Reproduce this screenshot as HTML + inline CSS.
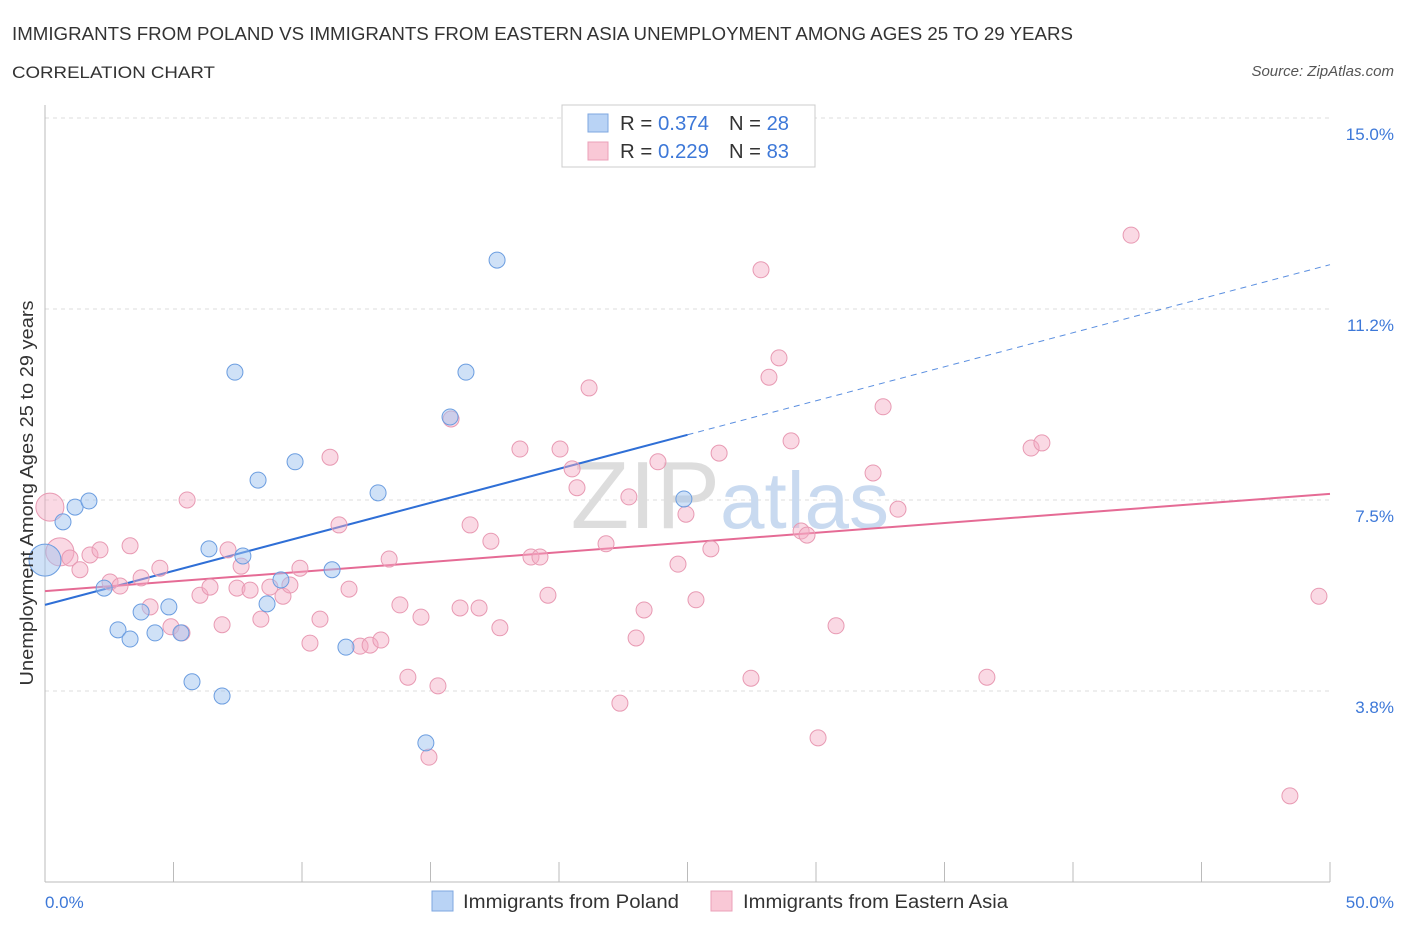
<!DOCTYPE html>
<html><head><meta charset="utf-8"><style>
body{margin:0;background:#fff;font-family:"Liberation Sans",sans-serif;}
svg text{font-family:"Liberation Sans",sans-serif;}
</style></head><body>
<svg width="1406" height="930" viewBox="0 0 1406 930">
<text x="12" y="40" font-size="18" fill="#333" textLength="1061" lengthAdjust="spacingAndGlyphs">IMMIGRANTS FROM POLAND VS IMMIGRANTS FROM EASTERN ASIA UNEMPLOYMENT AMONG AGES 25 TO 29 YEARS</text>
<text x="12" y="78" font-size="17" fill="#333" textLength="203" lengthAdjust="spacingAndGlyphs">CORRELATION CHART</text>
<text x="1394" y="76" font-size="15" fill="#555" font-style="italic" text-anchor="end">Source: ZipAtlas.com</text>
<g id="grid"></g>
<text x="720" y="528" font-size="96" fill="#ddd" text-anchor="end" font-family="Liberation Serif">ZIP</text>
<text x="720" y="528" font-size="80" fill="#c9daf0">atlas</text>
<g id="axes"></g>
<g id="lines"></g>
<g id="pts"></g>
<text transform="translate(33,493) rotate(-90)" font-size="18" fill="#333" text-anchor="middle" textLength="385" lengthAdjust="spacingAndGlyphs">Unemployment Among Ages 25 to 29 years</text>
<text x="45" y="908" font-size="17" fill="#3d78d8">0.0%</text>
<text x="1394" y="908" font-size="17" fill="#3d78d8" text-anchor="end">50.0%</text>
<g>
<rect x="562" y="105" width="253" height="62" fill="#fff" stroke="#ccc"/>
<rect x="588" y="114" width="20" height="18" fill="#b9d3f5" stroke="#7ea7e0"/>
<rect x="588" y="142" width="20" height="18" fill="#f9c8d6" stroke="#eba0b8"/>
<text x="620" y="130" font-size="20" fill="#333" textLength="89" lengthAdjust="spacingAndGlyphs">R = <tspan fill="#3d78d8">0.374</tspan></text>
<text x="729" y="130" font-size="20" fill="#333" textLength="60" lengthAdjust="spacingAndGlyphs">N = <tspan fill="#3d78d8">28</tspan></text>
<text x="620" y="158" font-size="20" fill="#333" textLength="89" lengthAdjust="spacingAndGlyphs">R = <tspan fill="#3d78d8">0.229</tspan></text>
<text x="729" y="158" font-size="20" fill="#333" textLength="60" lengthAdjust="spacingAndGlyphs">N = <tspan fill="#3d78d8">83</tspan></text>
</g>
<g>
<rect x="432" y="891" width="21" height="20" fill="#b9d3f5" stroke="#7ea7e0"/>
<text x="463" y="908" font-size="19" fill="#333" textLength="216" lengthAdjust="spacingAndGlyphs">Immigrants from Poland</text>
<rect x="711" y="891" width="21" height="20" fill="#f9c8d6" stroke="#eba0b8"/>
<text x="743" y="908" font-size="19" fill="#333" textLength="265" lengthAdjust="spacingAndGlyphs">Immigrants from Eastern Asia</text>
</g>
</svg>
<script>
const yTicks=[15,11.25,7.5,3.75];
const yTickLabels=["15.0%","11.2%","7.5%","3.8%"];
const xTicks=[0,5,10,15,20,25,30,35,40,45,50];
const polandX=[0,0.70,1.17,1.71,2.30,2.84,3.31,3.74,4.28,4.82,5.29,5.72,6.38,6.89,7.39,7.70,8.29,8.64,9.18,9.73,11.17,11.71,12.96,14.82,15.76,16.38,17.59,24.86];
const polandY=[6.32,7.07,7.36,7.48,5.77,4.95,4.77,5.30,4.89,5.40,4.89,3.93,6.54,3.65,10.01,6.40,7.89,5.46,5.93,8.25,6.13,4.61,7.64,2.73,9.13,10.01,12.21,7.52];
const asiaX=[0.19,0.58,0.97,1.36,1.75,2.14,2.53,2.92,3.31,3.74,4.09,4.47,4.90,5.33,5.53,6.03,6.42,6.89,7.12,7.47,7.63,7.98,8.40,8.75,9.26,9.53,9.92,10.31,10.70,11.09,11.44,11.83,12.26,12.65,13.07,13.39,13.81,14.12,14.63,14.94,15.29,15.80,16.15,16.54,16.89,17.35,17.70,18.48,18.91,19.26,19.57,20.04,20.51,20.70,21.17,21.83,22.37,22.72,23.00,23.31,23.85,24.63,24.94,25.33,25.91,26.23,27.47,27.86,28.17,28.56,29.03,29.42,29.65,30.08,30.78,32.22,32.61,33.19,36.65,38.37,38.79,42.26,48.44,49.57];
const asiaY=[7.36,6.48,6.36,6.13,6.42,6.52,5.89,5.81,6.60,5.97,5.40,6.16,5.01,4.89,7.50,5.63,5.79,5.05,6.52,5.77,6.20,5.73,5.16,5.79,5.61,5.83,6.16,4.69,5.16,8.34,7.01,5.75,4.63,4.65,4.75,6.34,5.44,4.02,5.20,2.45,3.85,9.09,5.38,7.01,5.38,6.69,4.99,8.50,6.38,6.38,5.63,8.50,8.11,7.74,9.70,6.64,3.51,7.56,4.79,5.34,8.25,6.24,7.22,5.54,6.54,8.42,4.00,12.02,9.91,10.29,8.66,6.89,6.81,2.83,5.03,8.03,9.33,7.32,4.02,8.52,8.62,12.70,1.69,5.61];
const polandTrend=[5.44,0.1336]; // intercept, slope
const asiaTrend=[5.71,0.0382];
const NS="http://www.w3.org/2000/svg";
const X=v=>45+v*25.7, Y=v=>118+(15-v)*50.93;
function mk(t,a,p){const e=document.createElementNS(NS,t);for(const k in a)e.setAttribute(k,a[k]);p.appendChild(e);return e;}
const grid=document.getElementById('grid'),axes=document.getElementById('axes');
yTicks.forEach((t,i)=>{
 const l=mk('line',{x1:45,x2:1330,y1:Y(t),y2:Y(t),stroke:'#ddd','stroke-dasharray':'4,4'},grid);
 
 
 const tx=mk('text',{x:1394,y:Y(t)+22,'font-size':17,fill:'#3d78d8','text-anchor':'end'},grid);
 tx.textContent=yTickLabels[i];
 
 
});
const ya=mk('line',{x1:45,x2:45,y1:105,y2:882,stroke:'#bbb'},axes);


const xa=mk('line',{x1:45,x2:1330,y1:882,y2:882,stroke:'#bbb'},axes);


xTicks.forEach(t=>{const l=mk('line',{x1:X(t),x2:X(t),y1:862,y2:882,stroke:'#bbb'},axes);
 
 });
const pts=document.getElementById('pts');
asiaX.forEach((x,i)=>{const c=mk('circle',{cx:X(x),cy:Y(asiaY[i]),r:i<2?14:8,fill:'rgba(245,170,195,0.45)',stroke:'#e89ab3','stroke-width':1},pts);
 
 });
polandX.forEach((x,i)=>{const c=mk('circle',{cx:X(x),cy:Y(polandY[i]),r:i==0?16:8,fill:'rgba(160,195,240,0.5)',stroke:'#6b9de0','stroke-width':1},pts);
 
 });
const lines=document.getElementById('lines');
const pt=x=>polandTrend[0]+polandTrend[1]*x, at=x=>asiaTrend[0]+asiaTrend[1]*x;
const b1=mk('line',{x1:X(0),y1:Y(pt(0)),x2:X(25),y2:Y(pt(25)),stroke:'#2f6fd6','stroke-width':2},lines);


const b2=mk('line',{x1:X(25),y1:Y(pt(25)),x2:X(50),y2:Y(pt(50)),stroke:'#5b8fe0','stroke-width':1,'stroke-dasharray':'6,5'},lines);


const p1=mk('line',{x1:X(0),y1:Y(at(0)),x2:X(50),y2:Y(at(50)),stroke:'#e56b95','stroke-width':2},lines);


</script>
</body></html>
